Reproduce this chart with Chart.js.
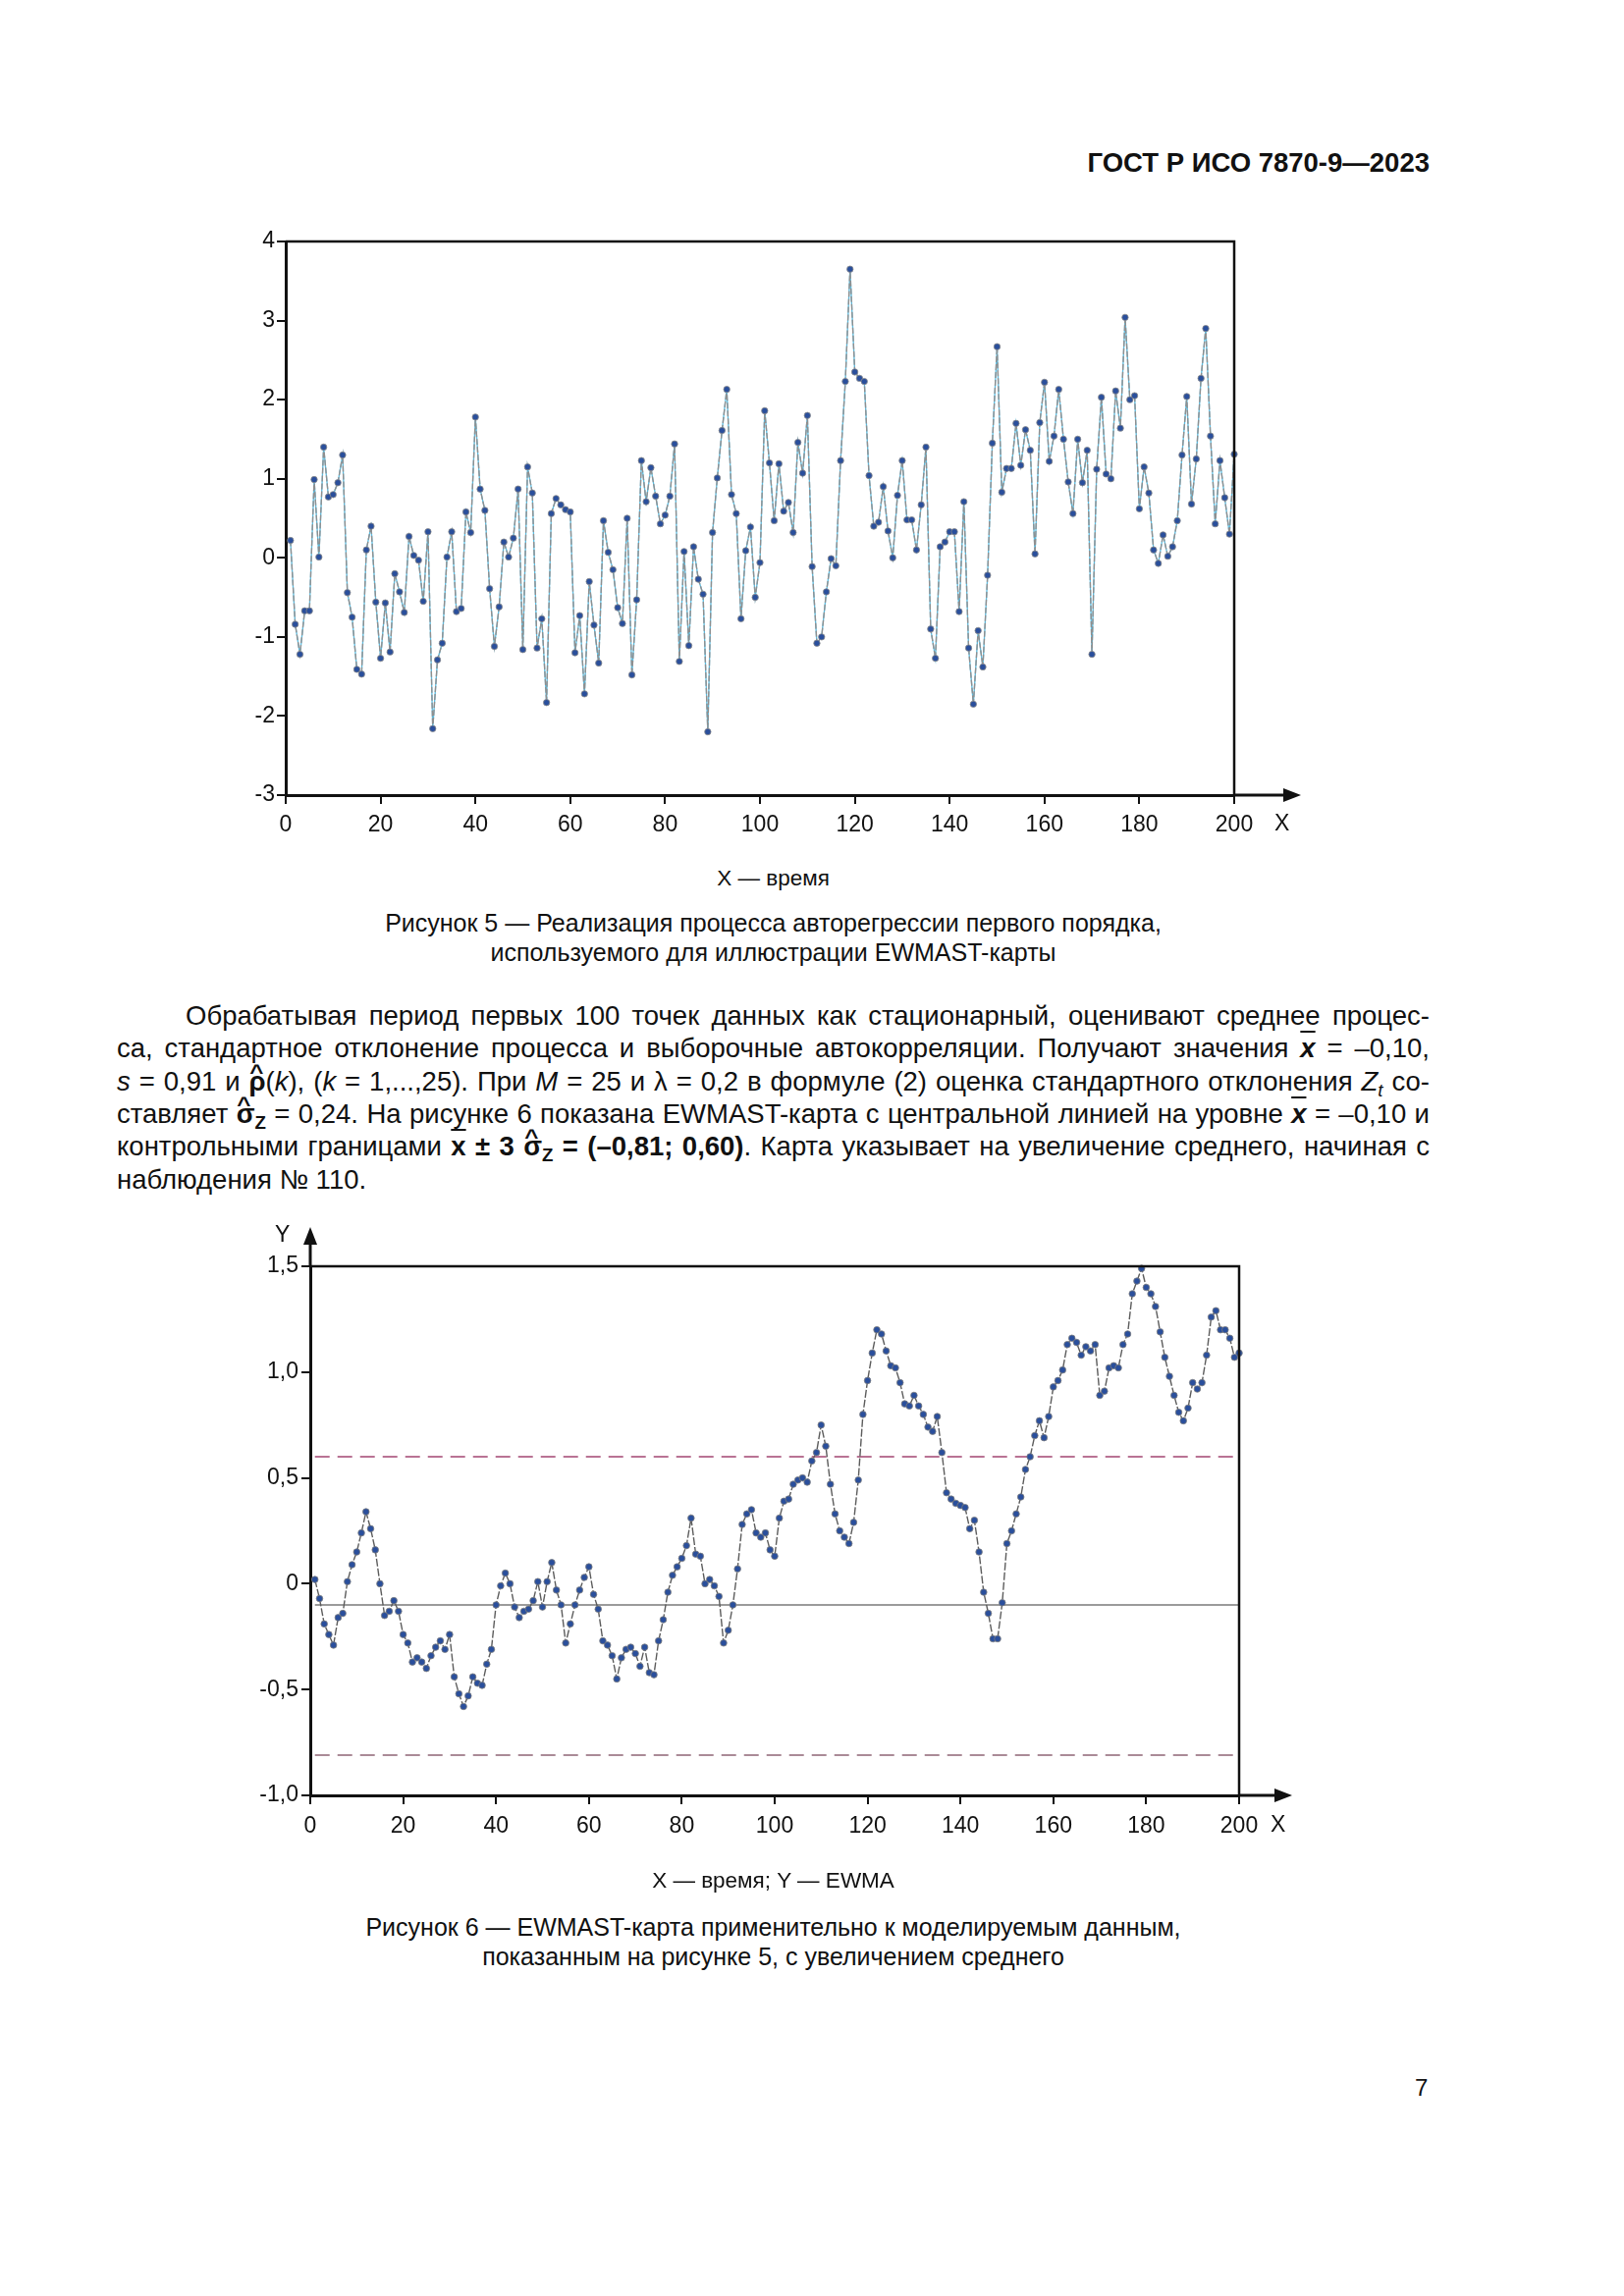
<!DOCTYPE html>
<html>
<head>
<meta charset="utf-8">
<script src="https://cdn.jsdelivr.net/npm/chart.js@4.4.0/dist/chart.umd.min.js"></script>
<style>
  body { margin: 0; background: #fff; }
  #page { position: relative; width: 1654px; height: 2339px; background: #fff;
          font-family: "Liberation Sans", Arial, sans-serif; color: #111; }
  .abs { position: absolute; }
  .line { position: absolute; font-size: 27.5px; line-height: 33px; height: 33px;
          text-align: justify; text-align-last: justify; white-space: nowrap; }
  .xb { font-weight: bold; font-style: italic; text-decoration: overline; }
  .hat { position: relative; display: inline-block; font-weight: bold; }
  .hat::before { content: "^"; position: absolute; left: 0.08em; top: -0.42em;
                 font-size: 0.8em; font-weight: bold; transform: scaleX(1.1); }
  sub { font-size: 0.68em; line-height: 0; vertical-align: -0.3em; }
  .center { text-align: center; }
</style>
</head>
<body>
<div id="page">
  <div class="abs" style="right:198px; top:150px; font-size:27.5px; font-weight:bold;">ГОСТ Р ИСО 7870-9—2023</div>

  <canvas id="c1" class="abs" width="1180" height="660" style="left:180px; top:220px;"></canvas>
  <div class="abs" style="left:1298px; top:825px; font-size:23px;">X</div>
  <div class="abs center" style="left:119px; width:1337px; top:882px; font-size:22.5px;">X — время</div>
  <div class="abs center" style="left:119px; width:1337px; top:925px; font-size:25px; line-height:30px;">Рисунок 5 — Реализация процесса авторегрессии первого порядка,<br>используемого для иллюстрации EWMAST-карты</div>

  <div class="line" style="left:189px; width:1267px; top:1018px;">Обрабатывая период первых 100 точек данных как стационарный, оценивают среднее процес-</div>
  <div class="line" style="left:119px; width:1337px; top:1051px;">са, стандартное отклонение процесса и выборочные автокорреляции. Получают значения <span class="xb">x</span> = –0,10,</div>
  <div class="line" style="left:119px; width:1337px; top:1085px;"><i>s</i> = 0,91 и <span class="hat">ρ</span>(<i>k</i>), (<i>k</i> = 1,...,25). При <i>M</i> = 25 и λ = 0,2 в формуле (2) оценка стандартного отклонения <i>Z<sub>t</sub></i> со-</div>
  <div class="line" style="left:119px; width:1337px; top:1118px;">ставляет <span class="hat">σ</span><b><sub>Z</sub></b> = 0,24. На рисунке 6 показана EWMAST-карта с центральной линией на уровне <span class="xb">x</span> = –0,10 и</div>
  <div class="line" style="left:119px; width:1337px; top:1151px;">контрольными границами <b><span style="text-decoration:overline">x</span> ± 3 <span class="hat">σ</span><sub>Z</sub> = (–0,81; 0,60)</b>. Карта указывает на увеличение среднего, начиная с</div>
  <div class="abs" style="left:119px; top:1185px; font-size:27.5px; line-height:33px;">наблюдения № 110.</div>

  <canvas id="c2" class="abs" width="1180" height="680" style="left:200px; top:1230px;"></canvas>
  <div class="abs" style="left:280px; top:1244px; font-size:23px;">Y</div>
  <div class="abs" style="left:1294px; top:1845px; font-size:23px;">X</div>
  <div class="abs center" style="left:119px; width:1337px; top:1903px; font-size:22.5px;">X — время; Y — EWMA</div>
  <div class="abs center" style="left:119px; width:1337px; top:1948px; font-size:25px; line-height:30px;">Рисунок 6 — EWMAST-карта применительно к моделируемым данным,<br>показанным на рисунке 5, с увеличением среднего</div>

  <div class="abs" style="left:1441px; top:2113px; font-size:24px;">7</div>
</div>

<script>
// time index (observation number)
var time = Array.from({length: 200}, function(_, i) { return i + 1; });

// Figure 5: AR(1) process realisation
var process = [
  0.22, -0.84, -1.22, -0.67, -0.67, 0.99, 0.01, 1.40, 0.77, 0.80,
  0.95, 1.30, -0.44, -0.75, -1.41, -1.47, 0.10, 0.40, -0.56, -1.27,
  -0.57, -1.19, -0.20, -0.43, -0.69, 0.27, 0.03, -0.03, -0.55, 0.33,
  -2.16, -1.29, -1.08, 0.01, 0.33, -0.68, -0.64, 0.58, 0.32, 1.78,
  0.87, 0.60, -0.39, -1.12, -0.62, 0.20, 0.01, 0.25, 0.87, -1.16,
  1.15, 0.82, -1.14, -0.77, -1.83, 0.56, 0.75, 0.67, 0.61, 0.58,
  -1.20, -0.73, -1.72, -0.30, -0.85, -1.33, 0.47, 0.07, -0.15, -0.63,
  -0.83, 0.50, -1.48, -0.53, 1.23, 0.71, 1.14, 0.78, 0.43, 0.54,
  0.78, 1.44, -1.31, 0.08, -1.11, 0.14, -0.27, -0.46, -2.20, 0.32,
  1.01, 1.61, 2.13, 0.80, 0.56, -0.77, 0.09, 0.39, -0.50, -0.06,
  1.86, 1.20, 0.47, 1.19, 0.59, 0.70, 0.32, 1.46, 1.07, 1.80,
  -0.11, -1.08, -1.00, -0.43, -0.01, -0.10, 1.23, 2.23, 3.65, 2.35,
  2.27, 2.23, 1.04, 0.40, 0.45, 0.90, 0.34, 0.00, 0.79, 1.23,
  0.48, 0.48, 0.10, 0.67, 1.40, -0.90, -1.27, 0.14, 0.20, 0.33,
  0.33, -0.68, 0.71, -1.14, -1.85, -0.92, -1.38, -0.22, 1.45, 2.67,
  0.83, 1.13, 1.13, 1.70, 1.17, 1.62, 1.36, 0.05, 1.71, 2.22,
  1.22, 1.54, 2.13, 1.50, 0.96, 0.56, 1.50, 0.95, 1.36, -1.22,
  1.12, 2.03, 1.06, 1.00, 2.11, 1.64, 3.04, 2.00, 2.05, 0.62,
  1.15, 0.82, 0.10, -0.07, 0.29, 0.02, 0.14, 0.47, 1.30, 2.04,
  0.68, 1.25, 2.27, 2.90, 1.54, 0.43, 1.23, 0.76, 0.30, 1.31
];

// Figure 6: EWMA statistic
var ewma = [
  0.02, -0.07, -0.19, -0.24, -0.29, -0.16, -0.14, 0.01, 0.09, 0.15,
  0.24, 0.34, 0.26, 0.16, 0.00, -0.15, -0.13, -0.08, -0.13, -0.24,
  -0.28, -0.37, -0.35, -0.37, -0.40, -0.34, -0.30, -0.27, -0.31, -0.24,
  -0.44, -0.52, -0.58, -0.53, -0.44, -0.47, -0.48, -0.38, -0.31, -0.10,
  -0.01, 0.05, 0.00, -0.11, -0.16, -0.13, -0.12, -0.08, 0.01, -0.11,
  0.01, 0.10, -0.03, -0.10, -0.28, -0.19, -0.10, -0.03, 0.03, 0.08,
  -0.05, -0.12, -0.27, -0.29, -0.34, -0.45, -0.35, -0.31, -0.30, -0.33,
  -0.39, -0.30, -0.42, -0.43, -0.27, -0.17, -0.04, 0.04, 0.08, 0.12,
  0.18, 0.31, 0.14, 0.13, 0.00, 0.02, -0.01, -0.06, -0.28, -0.22,
  -0.10, 0.07, 0.28, 0.33, 0.35, 0.24, 0.22, 0.24, 0.16, 0.13,
  0.31, 0.39, 0.40, 0.47, 0.49, 0.50, 0.48, 0.58, 0.62, 0.75,
  0.65, 0.47, 0.33, 0.25, 0.22, 0.19, 0.29, 0.49, 0.80, 0.96,
  1.09, 1.20, 1.18, 1.10, 1.03, 1.02, 0.95, 0.85, 0.84, 0.89,
  0.84, 0.80, 0.74, 0.72, 0.79, 0.62, 0.43, 0.40, 0.38, 0.37,
  0.36, 0.26, 0.30, 0.15, -0.04, -0.14, -0.26, -0.26, -0.09, 0.19,
  0.25, 0.33, 0.41, 0.54, 0.60, 0.70, 0.77, 0.69, 0.79, 0.93,
  0.96, 1.01, 1.13, 1.16, 1.14, 1.08, 1.12, 1.10, 1.13, 0.89,
  0.91, 1.02, 1.03, 1.02, 1.13, 1.18, 1.37, 1.43, 1.49, 1.40,
  1.37, 1.31, 1.19, 1.07, 0.98, 0.89, 0.81, 0.77, 0.83, 0.95,
  0.92, 0.95, 1.08, 1.26, 1.29, 1.20, 1.20, 1.16, 1.07, 1.09
];

var centerLine = -0.10;
var ucl = 0.60;
var lcl = -0.81;

var xTicks1 = [0, 20, 40, 60, 80, 100, 120, 140, 160, 180, 200];
var yTicks1 = [-3, -2, -1, 0, 1, 2, 3, 4];
var yTicks2 = [-1.0, -0.5, 0, 0.5, 1.0, 1.5];

Chart.defaults.font.family = '"Liberation Sans", Arial, sans-serif';
Chart.defaults.color = '#111';

function pts(arr) {
  return arr.map(function(v, i) { return {x: time[i], y: v}; });
}
function hline(v) {
  return [{x: time[0], y: v}, {x: time[time.length - 1], y: v}];
}

// box around plot + arrows on axes
var frame = {
  id: 'frame',
  afterDraw: function(chart, args, opts) {
    var ctx = chart.ctx, a = chart.chartArea;
    ctx.save();
    ctx.strokeStyle = '#111';
    ctx.fillStyle = '#111';
    ctx.lineWidth = 2.5;
    ctx.beginPath();
    ctx.moveTo(a.left, a.top);
    ctx.lineTo(a.right, a.top);
    ctx.lineTo(a.right, a.bottom);
    ctx.stroke();
    ctx.lineWidth = 3;
    ctx.beginPath();
    ctx.moveTo(a.right, a.bottom);
    ctx.lineTo(a.right + opts.xArrow - 14, a.bottom);
    ctx.stroke();
    ctx.beginPath();
    ctx.moveTo(a.right + opts.xArrow, a.bottom);
    ctx.lineTo(a.right + opts.xArrow - 18, a.bottom - 7);
    ctx.lineTo(a.right + opts.xArrow - 18, a.bottom + 7);
    ctx.closePath();
    ctx.fill();
    if (opts.yArrow) {
      ctx.beginPath();
      ctx.moveTo(a.left, a.top);
      ctx.lineTo(a.left, a.top - opts.yArrow + 14);
      ctx.stroke();
      ctx.beginPath();
      ctx.moveTo(a.left, a.top - opts.yArrow);
      ctx.lineTo(a.left - 7, a.top - opts.yArrow + 18);
      ctx.lineTo(a.left + 7, a.top - opts.yArrow + 18);
      ctx.closePath();
      ctx.fill();
    }
    ctx.restore();
  }
};

function axisX(h, pad) {
  return {
    type: 'linear', min: 0, max: 200,
    afterFit: function(s) { s.height = h; },
    afterBuildTicks: function(s) { s.ticks = xTicks1.map(function(v) { return {value: v}; }); },
    ticks: { font: {size: 23}, padding: pad, maxRotation: 0, autoSkip: false },
    grid: { drawOnChartArea: false, tickLength: 9, color: '#111', lineWidth: 2 },
    border: { color: '#111', width: 3 }
  };
}

new Chart(document.getElementById('c1'), {
  type: 'line',
  data: {
    datasets: [
      {
        data: pts(process),
        borderColor: '#8f8f8f', borderWidth: 1.4, borderDash: [6, 2],
        pointRadius: 3.2, pointBackgroundColor: '#2a4f9c',
        pointBorderColor: '#8a8a8a', pointBorderWidth: 0.8,
        tension: 0, clip: false
      },
      {
        data: pts(process),
        borderColor: '#5bbde2', borderWidth: 1.3,
        pointRadius: 0, tension: 0, clip: false
      }
    ]
  },
  options: {
    responsive: false, animation: false, events: [],
    layout: { padding: { top: 26, right: 103, left: 0, bottom: 0 } },
    plugins: { legend: { display: false }, tooltip: { enabled: false },
               frame: { xArrow: 68 } },
    scales: {
      x: axisX(70, 8),
      y: {
        min: -3, max: 4,
        afterFit: function(s) { s.width = 111; },
        afterBuildTicks: function(s) { s.ticks = yTicks1.map(function(v) { return {value: v}; }); },
        ticks: { font: {size: 23}, padding: 2, callback: function(v) { return String(v); } },
        grid: { drawOnChartArea: false, tickLength: 9, color: '#111', lineWidth: 2 },
        border: { color: '#111', width: 3 }
      }
    }
  },
  plugins: [frame]
});

new Chart(document.getElementById('c2'), {
  type: 'line',
  data: {
    datasets: [
      {
        data: pts(ewma),
        borderColor: '#5c5c5c', borderWidth: 1.4, borderDash: [8, 2],
        pointRadius: 3.3, pointBackgroundColor: '#2a4f9c',
        pointBorderColor: '#7d7d7d', pointBorderWidth: 0.8,
        tension: 0, clip: false
      },
      {
        data: hline(centerLine),
        borderColor: '#7a7a7a', borderWidth: 1.6, pointRadius: 0
      },
      {
        data: hline(ucl),
        borderColor: '#a24672', borderWidth: 1.4, borderDash: [15, 8], pointRadius: 0
      },
      {
        data: hline(lcl),
        borderColor: '#8e6676', borderWidth: 1.4, borderDash: [15, 8], pointRadius: 0
      }
    ]
  },
  options: {
    responsive: false, animation: false, events: [],
    layout: { padding: { top: 60, right: 118, left: 0, bottom: 0 } },
    plugins: { legend: { display: false }, tooltip: { enabled: false },
               frame: { xArrow: 54, yArrow: 40 } },
    scales: {
      x: axisX(81, 9),
      y: {
        min: -1, max: 1.5,
        afterFit: function(s) { s.width = 116; },
        afterBuildTicks: function(s) { s.ticks = yTicks2.map(function(v) { return {value: v}; }); },
        ticks: { font: {size: 23}, padding: 3,
                 callback: function(v) { return v === 0 ? '0' : v.toFixed(1).replace('.', ','); } },
        grid: { drawOnChartArea: false, tickLength: 9, color: '#111', lineWidth: 2 },
        border: { color: '#111', width: 3 }
      }
    }
  },
  plugins: [frame]
});
</script>
</body>
</html>
